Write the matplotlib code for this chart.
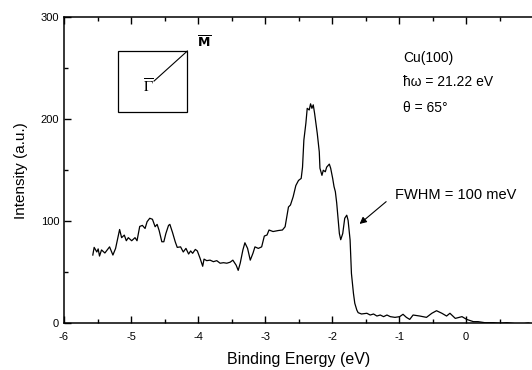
import matplotlib
matplotlib.use("Agg")
import matplotlib.pyplot as plt
from matplotlib.ticker import MultipleLocator

plt.rcParams['font.family'] = ['Liberation Sans', 'DejaVu Sans']
plt.rcParams['axes.unicode_minus'] = False

# photoemission spectrum
energy = [-5.57, -5.55, -5.51, -5.49, -5.47, -5.44, -5.39, -5.32, -5.27, -5.23,
          -5.17, -5.14, -5.10, -5.07, -5.04, -4.99, -4.94, -4.91, -4.87, -4.83,
          -4.79, -4.76, -4.72, -4.68, -4.64, -4.61, -4.58, -4.54, -4.51, -4.48,
          -4.44, -4.42, -4.38, -4.34, -4.31, -4.26, -4.22, -4.18, -4.14, -4.11,
          -4.08, -4.04, -4.01, -3.97, -3.93, -3.91, -3.87, -3.82, -3.77, -3.72,
          -3.67, -3.62, -3.57, -3.52, -3.48, -3.43, -3.40, -3.37, -3.33, -3.30,
          -3.26, -3.22, -3.18, -3.15, -3.10, -3.05, -3.01, -2.97, -2.94, -2.88,
          -2.80, -2.74, -2.70, -2.65, -2.62, -2.58, -2.54, -2.50, -2.46, -2.44,
          -2.42, -2.39, -2.37, -2.34, -2.32, -2.30, -2.28, -2.26, -2.24, -2.22,
          -2.19, -2.18, -2.15, -2.13, -2.10, -2.08, -2.04, -2.02, -1.99, -1.97,
          -1.95, -1.93, -1.91, -1.89, -1.87, -1.84, -1.81, -1.78, -1.76, -1.73,
          -1.71, -1.68, -1.66, -1.63, -1.61, -1.56, -1.48, -1.43, -1.38, -1.33,
          -1.28, -1.23, -1.18, -1.13, -1.06, -0.99, -0.94, -0.89, -0.84, -0.79,
          -0.69, -0.59, -0.51, -0.44, -0.36, -0.29, -0.24, -0.16, -0.06, 0.01,
          0.11, 0.18, 0.28, 0.41, 0.51, 0.61, 0.71, 0.81, 0.88, 0.93, 0.98]
intensity = [67, 74.5, 70, 73, 66, 72, 69, 75, 67, 73.5,
             92, 84, 86.5, 81, 84, 81, 84, 81, 95, 96,
             93, 99.6, 103, 102, 94.7, 97, 91, 80, 80, 88,
             96, 97, 89, 80, 74.5, 75, 70, 73.5, 68, 71,
             68.7, 72.5, 71, 64, 56, 63, 61.5, 62, 60.5, 61.5,
             59, 59.5, 59, 60, 62, 57, 52, 59, 72, 79,
             73.5, 62, 68.7, 75, 73.5, 75, 85.6, 86.6, 91.5, 90,
             91, 91.5, 94.7, 114, 116, 124, 135, 140, 142, 153,
             179.5, 196, 210.6, 209, 215, 210.6, 214, 205.7, 196, 186,
             168, 152, 145, 150, 148.5, 153, 156, 152, 142, 134,
             129, 118, 103, 88, 82, 88, 103, 106, 101, 81.7,
             49, 29.5, 19.8, 13.2, 10.6, 9.3, 10, 8.3, 9.3, 7.3,
             8.3, 6.7, 8.3, 6.7, 6, 6.7, 9, 6, 4, 8.3,
             7.3, 6, 10, 12.5, 10, 7.3, 10, 5, 6.7, 4,
             1.8, 1.8, 0.8, 0.8, 0.2, 0.8, 0, -1, 0, 0.5, -0.5]

fig = plt.figure(figsize=(5.32, 3.70), dpi=100)
ax = fig.add_axes([0.1203, 0.1257, 0.8816, 0.8284])

ax.plot(energy, intensity, color='black', lw=0.9)

ax.set_xlim(-6, 1)
ax.set_ylim(0, 300)
ax.set_xticks(range(-6, 1))
ax.xaxis.set_minor_locator(MultipleLocator(0.5))
ax.set_yticks([0, 100, 200, 300])
ax.yaxis.set_minor_locator(MultipleLocator(50))
ax.tick_params(which='both', direction='in', top=True, labelsize=8, width=1)
ax.tick_params(axis='x', pad=6)
ax.tick_params(which='major', length=5)
ax.tick_params(which='minor', length=3)
for s in ax.spines.values():
    s.set_linewidth(1.1)

ax.set_xlabel('Binding Energy (eV)', fontsize=11.5, labelpad=7)
ax.set_ylabel('Intensity (a.u.)', fontsize=11, labelpad=9)

# inset: surface Brillouin zone direction
ax.add_patch(plt.Rectangle((0.115, 0.69), 0.148, 0.20, transform=ax.transAxes,
                           fill=False, lw=0.9, color='black'))
ax.plot([0.192, 0.263], [0.791, 0.889], transform=ax.transAxes,
        color='black', lw=0.8)
ax.text(0.180, 0.772, r'$\overline{\Gamma}$', transform=ax.transAxes,
        fontsize=11, ha='center', va='center', math_fontfamily='stix')
ax.text(0.300, 0.915, r'$\overline{\mathbf{M}}$', transform=ax.transAxes,
        fontsize=9, ha='center', va='center')

ax.text(-0.94, 259.5, 'Cu(100)', fontsize=10, va='center')
ax.text(-0.94, 236.6, 'ħω = 21.22 eV', fontsize=10, va='center')
ax.text(-0.94, 210.6, 'θ = 65°', fontsize=10, va='center')

ax.annotate('', xy=(-1.62, 95.7), xytext=(-1.16, 121),
            arrowprops=dict(arrowstyle='-|>', color='black', lw=0.8,
                            mutation_scale=10))
ax.text(-1.06, 125.7, 'FWHM = 100 meV', fontsize=10.5, va='center')

fig.savefig('out.png', dpi=100)
